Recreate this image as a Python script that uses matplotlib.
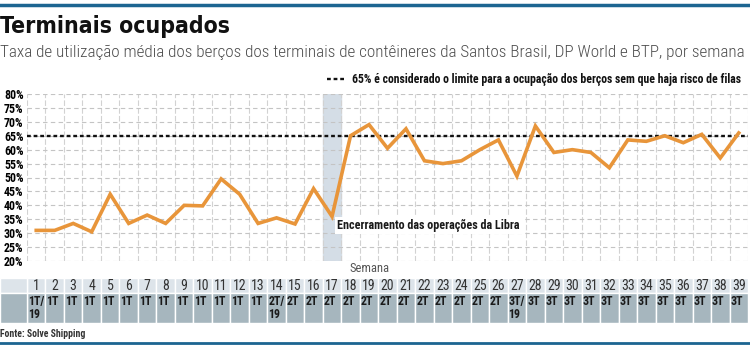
import numpy as np
import matplotlib.pyplot as plt
from matplotlib.patches import Rectangle
from matplotlib.lines import Line2D

plt.rcParams['font.family'] = ['Roboto Condensed', 'DejaVu Sans']

# data
weeks = list(range(1, 40))
ocupacao = [31, 31, 33.5, 30.5, 44, 33.5, 36.5, 33.5, 40, 39.8,
            49.5, 44, 33.5, 35.5, 33.3, 46, 36, 65, 69, 60.5,
            67.5, 56, 55, 56, 60, 63.5, 50.5, 68.5, 59, 60,
            59, 53.5, 63.5, 63, 65, 62.5, 65.5, 57, 66]
trimestres = ['1T/\n19'] + ['1T'] * 12 + ['2T/\n19'] + ['2T'] * 12 + ['3T/\n19'] + ['3T'] * 12
limite = 65
semana_libra = 17

W, H = 750, 350
fig = plt.figure(figsize=(W / 100, H / 100), dpi=100)

orange = '#e8953a'
blue = '#1c6591'

# main chart area, in pixels: x 27..748, y 94..261
ax = fig.add_axes([27 / W, (H - 261) / H, 721 / W, 167 / H])
ax.set_xlim(0.5, 39.5)
ax.set_ylim(20, 80)
ax.axvspan(semana_libra - 0.5, semana_libra + 0.5, color='#d4dde6', zorder=0)
ax.axhline(limite, color='#111111', lw=1.7, ls=(0, (1.6, 1.2)), zorder=2)
ax.plot(weeks, ocupacao, color=orange, lw=2.6, solid_joinstyle='miter', zorder=3)

ax.set_yticks(np.arange(20, 81, 5))
ax.set_yticklabels([f'{v}%' for v in range(20, 81, 5)], fontsize=8.6, fontweight='bold')
ax.set_xticks([])
ax.set_xticks(np.arange(0.5, 40, 1), minor=True)
ax.tick_params(axis='both', which='both', length=0, pad=2.5)
ax.grid(axis='y', color='#c4c4c4', ls=(0, (4, 3)), lw=0.8)
ax.grid(axis='x', which='minor', color='#d2d2d2', ls=(0, (5, 2)), lw=0.8)
for s in ax.spines.values():
    s.set_visible(False)
ax.set_facecolor('white')

ax.text(semana_libra + 0.27, 32.6, 'Encerramento das operações da Libra', fontsize=8.7,
        fontweight='bold', va='center', ha='left', color='#1a1a1a',
        bbox=dict(facecolor='white', edgecolor='none', pad=1.5), zorder=4)

# table below the chart
tab = fig.add_axes([0, (H - 323) / H, 748 / W, 45 / H])
x0 = 0.5 - 27 / (721 / 39)
tab.set_xlim(x0, 39.5)
tab.set_ylim(0, 3)
tab.axis('off')
tab.bar(weeks, [1] * 39, bottom=2, width=1, color='#dde4ea', edgecolor='white', lw=1)
tab.bar(weeks, [2] * 39, bottom=0, width=1, color='#a6b6be', edgecolor='white', lw=1)
tab.add_patch(Rectangle((x0, 2), 0.5 - x0, 1, facecolor='#dde4ea', edgecolor='white', lw=1))
tab.add_patch(Rectangle((x0, 0), 0.5 - x0, 2, facecolor='#a6b6be', edgecolor='white', lw=1))
for w, t in zip(weeks, trimestres):
    tab.text(w, 2.5, str(w), ha='center', va='center', fontsize=10, color='#333333')
    tab.text(w - 0.45, 1.88, t, ha='left', va='top', fontsize=8.6, fontweight='bold',
             color='#1a1a1a', linespacing=1.0)

# header and footer
fig.add_artist(Line2D([0, 1], [1 - 5 / H, 1 - 5 / H], color=blue, lw=2.5))
fig.add_artist(Line2D([0, 1], [1 - 343 / H, 1 - 343 / H], color=blue, lw=2))
fig.text(0, 1 - 27 / H, 'Terminais ocupados', fontsize=16.5, fontweight='bold',
         fontstretch='condensed', va='center', ha='left', color='#111111',
         family=['DejaVu Sans'])
fig.text(0, 1 - 52 / H, 'Taxa de utilização média dos berços dos terminais de contêineres '
         'da Santos Brasil, DP World e BTP, por semana', fontsize=12.3, fontweight='light',
         va='center', ha='left', color='#4d4d4d')
fig.add_artist(Line2D([327 / W, 345 / W], [1 - 79 / H] * 2, color='#111111', lw=1.7,
                      ls=(0, (1.6, 1.2))))
fig.text(352 / W, 1 - 79 / H, '65% é considerado o limite para a ocupação dos berços '
         'sem que haja risco de filas', fontsize=8.5, fontweight='bold', va='center',
         ha='left', color='#111111')
fig.text(370 / W, 1 - 269 / H, 'Semana', fontsize=9, ha='center', va='center', color='#555555')
fig.text(0, 1 - 334 / H, 'Fonte: Solve Shipping', fontsize=7, fontweight='bold',
         ha='left', va='center', color='#333333')

fig.savefig('out.png', dpi=100)
